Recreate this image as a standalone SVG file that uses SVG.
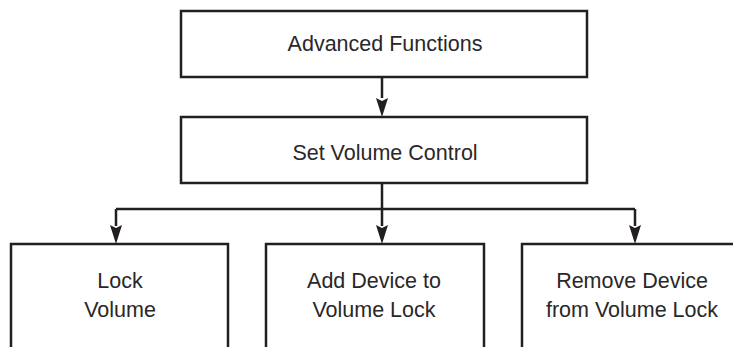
<svg xmlns="http://www.w3.org/2000/svg" width="733" height="347" viewBox="0 0 733 347">
  <style>
    .box { fill: #ffffff; stroke: #231f20; stroke-width: 2.5; }
    .line { fill: none; stroke: #231f20; stroke-width: 2.5; }
    .head { fill: #231f20; }
    .lbl { font-family: "Liberation Sans", Arial, sans-serif; font-size: 21.5px; fill: #2a2728; text-anchor: middle; }
  </style>
  <rect width="733" height="347" fill="#ffffff"/>
  <g id="connectors">
    <path class="line" d="M382,77 V98"/>
    <path class="head" d="M376,98 L382,101 L388,98 L382,117 Z"/>
    <path class="line" d="M382,183 V209 M116,209 H635 M116,209 V226 M382,209 V226 M635,209 V226"/>
    <path class="head" d="M110,225 L116,228 L122,225 L116,244 Z"/>
    <path class="head" d="M376,225 L382,228 L388,225 L382,244 Z"/>
    <path class="head" d="M629,225 L635,228 L641,225 L635,244 Z"/>
  </g>
  <g id="advanced-functions">
    <rect class="box" x="181" y="11" width="406" height="66"/>
    <text class="lbl" x="385" y="51">Advanced Functions</text>
  </g>
  <g id="set-volume-control">
    <rect class="box" x="181" y="117" width="406" height="66"/>
    <text class="lbl" x="385" y="160">Set Volume Control</text>
  </g>
  <g id="lock-volume">
    <rect class="box" x="11" y="244" width="217" height="120"/>
    <text class="lbl" x="120" y="288">Lock</text>
    <text class="lbl" x="120" y="317">Volume</text>
  </g>
  <g id="add-device">
    <rect class="box" x="266" y="244" width="218" height="120"/>
    <text class="lbl" x="374" y="288">Add Device to</text>
    <text class="lbl" x="374" y="317">Volume Lock</text>
  </g>
  <g id="remove-device">
    <rect class="box" x="522" y="244" width="218" height="120"/>
    <text class="lbl" x="632" y="288">Remove Device</text>
    <text class="lbl" x="632" y="317">from Volume Lock</text>
  </g>
</svg>
